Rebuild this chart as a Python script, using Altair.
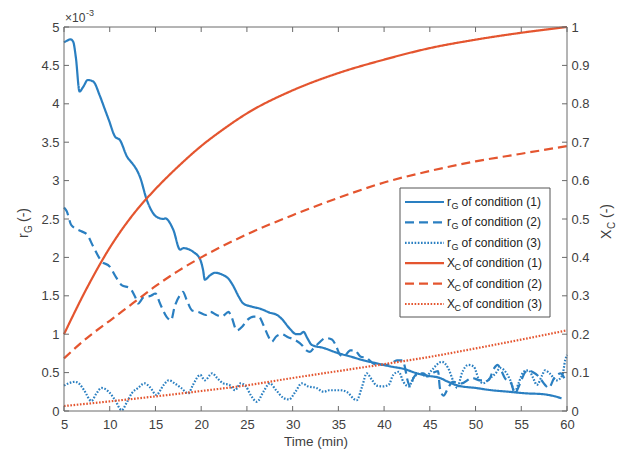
import altair as alt
import pandas as pd

BLUE = "#2a7fc1"
ORANGE = "#e4552f"
INK = "#404040"
FRAME = "#6a6a6a"
FONT = "Liberation Sans"
W, H = 503, 384

# ---- r_G (in units of 1e-3) versus time (min) ----
rg1_t = [5.0, 5.3, 5.7, 6.0, 6.3, 6.7, 7.1, 7.6, 8.2, 8.9, 9.4, 9.9, 10.6, 11.1, 11.9,
         12.5, 12.95, 13.3, 14.05, 15.1, 15.9, 16.05, 16.95, 17.7, 18.05, 19.15, 19.9,
         20.2, 20.4, 21.0, 21.5, 22.4, 23.0, 23.5, 24.1, 24.6, 25.5, 26.5, 27.5, 28.3,
         28.8, 29.7, 30.4, 30.8, 31.2, 31.6, 32.1, 33.4, 34.8, 36.3, 37.75, 39.2, 40.7,
         42.1, 43.6, 44.7, 46.1, 47.0, 48.1, 50.0, 51.8, 53.7, 55.5, 57.3, 58.7, 59.4]
rg1_v = [4.80, 4.82, 4.84, 4.81, 4.60, 4.16, 4.22, 4.31, 4.29, 4.11, 3.95, 3.79, 3.57,
         3.53, 3.31, 3.22, 3.14, 3.05, 2.75, 2.53, 2.50, 2.51, 2.36, 2.10, 2.12, 2.07,
         1.97, 1.84, 1.71, 1.77, 1.80, 1.77, 1.72, 1.63, 1.49, 1.40, 1.36, 1.33, 1.28,
         1.25, 1.20, 1.07, 1.00, 1.00, 1.03, 0.95, 0.86, 0.82, 0.76, 0.71, 0.66, 0.62,
         0.58, 0.55, 0.49, 0.46, 0.43, 0.38, 0.33, 0.30, 0.27, 0.25, 0.23, 0.22, 0.19, 0.165]

rg2_t = [5.0, 5.3, 5.8, 6.9, 7.5, 8.2, 9.1, 10.0, 10.7, 11.3, 12.2, 12.8, 13.1, 13.7,
         14.5, 15.0, 15.5, 16.2, 16.7, 17.1, 17.7, 18.0, 18.4, 19.0, 19.7, 20.5, 21.0,
         21.7, 22.25, 23.0, 23.3, 23.9, 24.5, 25.0, 25.75, 26.3, 26.8, 27.35, 27.7, 28.2,
         28.8, 29.5, 30.2, 31.0, 31.5, 31.9, 32.3, 33.0, 33.6, 34.3, 34.7, 35.2, 35.6,
         36.3, 36.8, 37.4, 38.1, 38.8, 39.3, 40.1, 40.8, 41.4, 42.0, 42.3, 42.5, 42.9,
         43.2, 43.8, 44.3, 44.8, 45.4, 45.9, 46.1, 46.5, 47.0, 47.5, 48.5, 49.6, 50.5,
         51.4, 52.0, 52.4, 52.8, 53.2, 53.9, 54.3, 54.8, 55.4, 55.8, 56.2, 56.9, 57.6,
         58.0, 58.6, 59.3, 59.8]
rg2_v = [2.65, 2.60, 2.42, 2.34, 2.30, 2.14, 1.95, 1.88, 1.74, 1.64, 1.60, 1.48, 1.40,
         1.48, 1.50, 1.53, 1.40, 1.23, 1.18, 1.36, 1.51, 1.55, 1.45, 1.31, 1.29, 1.25,
         1.29, 1.25, 1.23, 1.29, 1.23, 1.05, 1.10, 1.18, 1.23, 1.23, 1.12, 0.97, 0.90,
         0.97, 1.00, 0.96, 0.93, 0.86, 0.79, 0.77, 0.82, 0.90, 0.95, 0.93, 0.86, 0.73,
         0.71, 0.79, 0.79, 0.71, 0.69, 0.62, 0.60, 0.60, 0.62, 0.66, 0.66, 0.56, 0.43,
         0.32, 0.43, 0.49, 0.49, 0.45, 0.50, 0.52, 0.30, 0.20, 0.30, 0.38, 0.36, 0.43,
         0.40, 0.40, 0.55, 0.60, 0.53, 0.43, 0.36, 0.23, 0.34, 0.50, 0.53, 0.51, 0.45,
         0.34, 0.30, 0.43, 0.49, 0.40]

rg3_t = [5.0, 5.5, 6.2, 6.7, 7.2, 8.0, 8.5, 9.1, 9.9, 10.6, 11.3, 11.9, 12.4, 13.1,
         13.8, 14.4, 15.1, 15.9, 16.45, 17.1, 17.8, 18.6, 19.1, 19.9, 20.4, 21.2, 21.75,
         22.4, 23.1, 23.7, 24.3, 24.9, 25.4, 26.1, 26.8, 27.5, 28.2, 29.0, 29.6, 30.3,
         31.0, 31.7, 32.6, 33.4, 34.0, 35.2, 35.9, 37.0, 37.6, 38.1, 38.7, 39.2, 39.9,
         40.5, 41.0, 41.6, 42.1, 42.7, 43.2, 44.0, 44.6, 45.2, 46.3, 47.0, 47.6, 48.0,
         48.5, 49.2, 49.8, 50.3, 50.8, 51.6, 52.2, 52.7, 53.4, 53.8, 54.3, 54.7, 55.25,
         55.8, 56.3, 56.7, 57.3, 57.6, 58.1, 58.9, 59.5, 59.8, 60.0]
rg3_v = [0.33, 0.36, 0.38, 0.35, 0.27, 0.13, 0.22, 0.30, 0.25, 0.14, 0.01, 0.12, 0.23,
         0.30, 0.36, 0.31, 0.21, 0.34, 0.40, 0.36, 0.30, 0.23, 0.34, 0.47, 0.40, 0.49,
         0.43, 0.36, 0.34, 0.27, 0.36, 0.32, 0.21, 0.12, 0.25, 0.36, 0.27, 0.17, 0.15,
         0.25, 0.36, 0.32, 0.30, 0.25, 0.27, 0.27, 0.25, 0.14, 0.32, 0.49, 0.40, 0.33,
         0.32, 0.34, 0.47, 0.51, 0.38, 0.32, 0.43, 0.49, 0.45, 0.53, 0.64, 0.56, 0.38,
         0.30, 0.49, 0.60, 0.58, 0.43, 0.36, 0.43, 0.49, 0.56, 0.49, 0.40, 0.25, 0.36,
         0.51, 0.53, 0.43, 0.34, 0.47, 0.53, 0.49, 0.40, 0.47, 0.66, 0.73]

# ---- X_C (-) versus time (min) ----
xc1_t = [5, 7.5, 10, 12.5, 15, 17.5, 20, 22.5, 25, 30, 35, 40, 45, 50, 55, 60]
xc1_v = [0.20, 0.32, 0.425, 0.51, 0.578, 0.637, 0.69, 0.735, 0.775, 0.835, 0.88, 0.915,
         0.945, 0.967, 0.985, 1.0]
xc2_t = [5, 7.5, 10, 12.5, 15, 17.5, 20, 25, 30, 35, 40, 45, 50, 55, 60]
xc2_v = [0.137, 0.19, 0.235, 0.28, 0.325, 0.365, 0.40, 0.46, 0.51, 0.555, 0.595, 0.625,
         0.65, 0.67, 0.69]
xc3_t = [5, 10, 15, 20, 25, 30, 35, 40, 45, 50, 55, 60]
xc3_v = [0.013, 0.025, 0.038, 0.052, 0.067, 0.086, 0.104, 0.122, 0.141, 0.163, 0.186, 0.21]

CONDS = ["(1)", "(2)", "(3)"]
X_TICKS = list(range(5, 61, 5))
RG_TICKS = [i / 2 for i in range(11)]
XC_TICKS = [i / 10 for i in range(11)]


def series(t, v, cond):
    return pd.DataFrame({"t": t, "v": v, "cond": cond})


rg = pd.concat([series(rg1_t, rg1_v, CONDS[0]),
                series(rg2_t, rg2_v, CONDS[1]),
                series(rg3_t, rg3_v, CONDS[2])])
xc = pd.concat([series(xc1_t, xc1_v, CONDS[0]),
                series(xc2_t, xc2_v, CONDS[1]),
                series(xc3_t, xc3_v, CONDS[2])])

dash = alt.StrokeDash("cond:N", legend=None,
                      scale=alt.Scale(domain=CONDS, range=[[1, 0], [9, 5], [1.6, 1.6]]))
sw = alt.StrokeWidth("cond:N", legend=None,
                     scale=alt.Scale(domain=CONDS, range=[2.2, 2.2, 1.8]))

X_ENC = alt.X("t:Q", scale=alt.Scale(domain=[5, 60], nice=False),
              axis=alt.Axis(values=X_TICKS, ticks=False, domain=False, grid=False,
                            labelPadding=7, title="Time (min)", titlePadding=3,
                            labelFlush=False))

rg_lines = alt.Chart(rg).mark_line(interpolate="monotone").encode(
    x=X_ENC,
    y=alt.Y("v:Q", scale=alt.Scale(domain=[0, 5], nice=False),
            axis=alt.Axis(orient="left", values=RG_TICKS, format="~g", ticks=False,
                          domain=False, grid=False, labelPadding=5, title=None,
                          labelFlush=False)),
    strokeDash=dash, strokeWidth=sw, detail="cond:N",
    color=alt.value(BLUE),
)

xc_lines = alt.Chart(xc).mark_line(interpolate="monotone").encode(
    x=X_ENC,
    y=alt.Y("v:Q", scale=alt.Scale(domain=[0, 1], nice=False),
            axis=alt.Axis(orient="right", values=XC_TICKS, format="~g", ticks=False,
                          domain=False, grid=False, labelPadding=4, title=None,
                          labelFlush=False)),
    strokeDash=dash, strokeWidth=sw, detail="cond:N",
    color=alt.value(ORANGE),
)

one = pd.DataFrame({"k": [0]})

# frame around the plot area
frame = alt.Chart(one).mark_rect(filled=False, stroke=FRAME, strokeWidth=1).encode(
    x=alt.value(0), x2=alt.value(W), y=alt.value(0), y2=alt.value(H))

# inward tick marks on all four sides
xt = pd.DataFrame({"t": X_TICKS})
bottom_ticks = alt.Chart(xt).mark_rule(color=FRAME).encode(
    x=X_ENC, y=alt.value(H), y2=alt.value(H - 5))
top_ticks = alt.Chart(xt).mark_rule(color=FRAME).encode(
    x=X_ENC, y=alt.value(0), y2=alt.value(5))
left_ticks = alt.Chart(pd.DataFrame({"v": RG_TICKS})).mark_rule(color=FRAME).encode(
    y=alt.Y("v:Q", scale=alt.Scale(domain=[0, 5], nice=False), axis=None),
    x=alt.value(0), x2=alt.value(5))
right_ticks = alt.Chart(pd.DataFrame({"v": XC_TICKS})).mark_rule(color=FRAME).encode(
    y=alt.Y("v:Q", scale=alt.Scale(domain=[0, 1], nice=False), axis=None),
    x=alt.value(W), x2=alt.value(W - 5))


def label(text, x, y, size=12, angle=0, align="left", baseline="alphabetic"):
    kw = dict(text=text, font=FONT, fontSize=size, color=INK, align=align,
              baseline=baseline)
    if angle:
        kw["angle"] = angle
    return alt.Chart(one).mark_text(**kw).encode(x=alt.value(x), y=alt.value(y))


# exponent of the left axis
exponent = [label("\u00d710", 1, -5, 12), label("-3", 22, -11, 9)]

# rotated axis titles with subscripts
left_title = [label("r", -40, 211, 14, 270, "left", "middle"),
              label("G", -35.5, 206, 10, 270, "left", "middle"),
              label("(-)", -40, 195, 14, 270, "left", "middle")]
right_title = [label("X", 543, 212, 14, 270, "left", "middle"),
               label("C", 547.5, 202, 10, 270, "left", "middle"),
               label("(-)", 543, 191, 14, 270, "left", "middle")]

# legend
LEG_X0, LEG_X1, LEG_Y0, LEG_Y1 = 336, 486, 161, 290
ROW0, PITCH = 175, 20.4
leg = pd.DataFrame({
    "grp": ["rG"] * 3 + ["XC"] * 3,
    "cond": CONDS * 2,
})
leg["py"] = [ROW0 + i * PITCH for i in range(len(leg))]
leg["rest"] = "of condition " + leg["cond"]
leg["sub_py"] = leg["py"] + 4

leg_box = alt.Chart(one).mark_rect(fill="white", stroke="#555555", strokeWidth=1).encode(
    x=alt.value(LEG_X0), x2=alt.value(LEG_X1), y=alt.value(LEG_Y0), y2=alt.value(LEG_Y1))
leg_lines = alt.Chart(leg).mark_rule().encode(
    x=alt.value(341), x2=alt.value(380),
    y=alt.Y("py:Q", scale=None, axis=None),
    color=alt.Color("grp:N", legend=None,
                    scale=alt.Scale(domain=["rG", "XC"], range=[BLUE, ORANGE])),
    strokeDash=dash, strokeWidth=sw,
)


def leg_text(df, field, x, size, yfield="py"):
    return alt.Chart(df).mark_text(font=FONT, fontSize=size, color="#222222",
                                   align="left", baseline="middle").encode(
        x=alt.value(x), y=alt.Y(f"{yfield}:Q", scale=None, axis=None),
        text=f"{field}:N")


leg_r = leg[leg.grp == "rG"].assign(main="r", sub="G")
leg_x = leg[leg.grp == "XC"].assign(main="X", sub="C")
leg_texts = [
    leg_text(leg_r, "main", 383, 12), leg_text(leg_r, "sub", 387.5, 9, "sub_py"),
    leg_text(leg_r, "rest", 397.5, 12),
    leg_text(leg_x, "main", 383, 12), leg_text(leg_x, "sub", 390.5, 9, "sub_py"),
    leg_text(leg_x, "rest", 398.5, 12),
]

chart = alt.layer(
    rg_lines, xc_lines, frame, bottom_ticks, top_ticks, left_ticks, right_ticks,
    *exponent, *left_title, *right_title, leg_box, leg_lines, *leg_texts,
).resolve_scale(y="independent").properties(
    width=W, height=H,
    autosize=alt.AutoSizeParams(type="none"),
    padding={"left": 64, "top": 27, "right": 62, "bottom": 42},
    background="white",
).configure_view(stroke=None).configure_axis(
    labelFont=FONT, labelFontSize=13, labelColor=INK,
    titleFont=FONT, titleFontSize=13.5, titleColor=INK, titleFontWeight="normal",
)

chart.save("out.html", embed_options={"renderer": "svg", "actions": False})
